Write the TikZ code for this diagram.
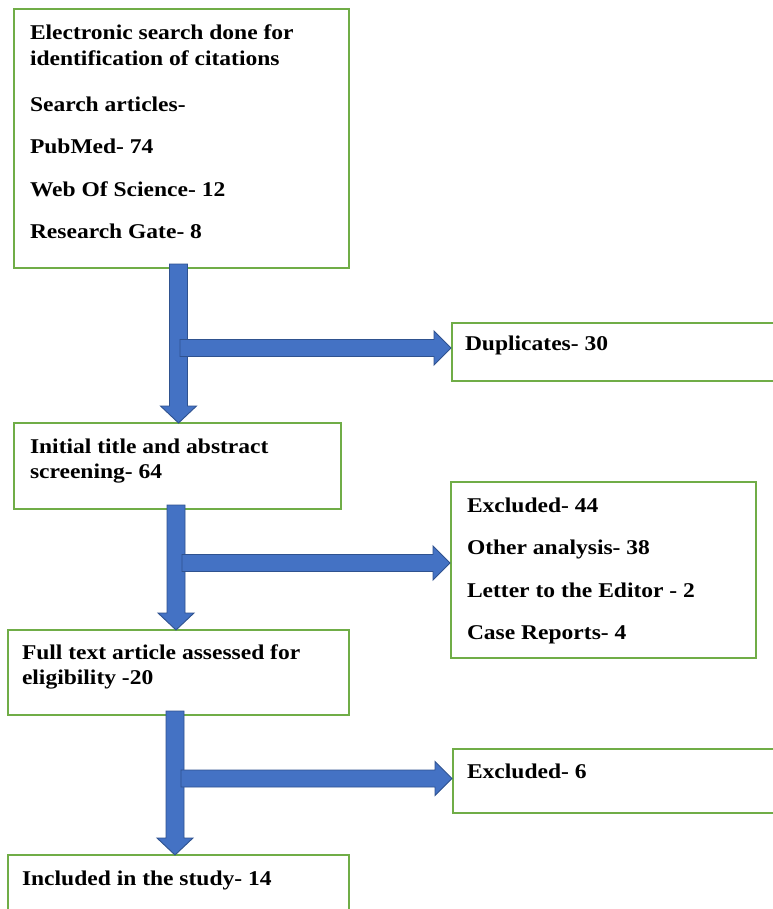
\documentclass[tikz,border=0pt]{standalone}
\usepackage{fontspec}
\setmainfont{Liberation Serif}[FakeStretch=1.12]
\definecolor{boxgreen}{HTML}{70AD47}
\definecolor{arrowblue}{HTML}{4472C4}
\definecolor{arrowedge}{HTML}{2F528F}
% vertical block arrow: #1 name, #2 centre x, #3 from node, #4 to node
\newcommand\vblockarrow[4]{%
  \path (#2,0 |- #3.south) coordinate (#1s) (#2,0 |- #4.north) coordinate (#1t);
  \draw[barrow] ([shift={(-9,-4)}]#1s) -- ([shift={(-9,-17)}]#1t) -- ([shift={(-18,-17)}]#1t)
     -- (#1t) -- ([shift={(18,-17)}]#1t) -- ([shift={(9,-17)}]#1t) -- ([shift={(9,-4)}]#1s) -- cycle;}
% side block arrow: #1 name, #2 start coordinate, #3 target node
\newcommand\hblockarrow[3]{%
  \path (#2) coordinate (#1s) (#3.west |- #2) coordinate (#1t);
  \draw[barrow] ([shift={(0,-8.5)}]#1s) -- ([shift={(-18,-8.5)}]#1t) -- ([shift={(-18,-17)}]#1t)
     -- ([shift={(-1,0)}]#1t) -- ([shift={(-18,17)}]#1t) -- ([shift={(-18,8.5)}]#1t) -- ([shift={(0,8.5)}]#1s) -- cycle;}
\begin{document}
\begin{tikzpicture}[x=1pt,y=-1pt,
  box/.style={draw=boxgreen,line width=1.5pt,fill=white,anchor=north west,inner sep=0pt,outer sep=0pt},
  txt/.style={anchor=base west,inner sep=0pt,outer sep=0pt,font=\fontsize{21}{25}\selectfont\bfseries},
  barrow/.style={fill=arrowblue,draw=arrowedge,line width=0.9pt,line join=miter}]
\useasboundingbox[fill=white] (0,0) rectangle (772,909);

% boxes
\node[box,minimum width=335pt,minimum height=259pt] (b1) at (14,9) {};
\node[box,minimum width=330pt,minimum height=58pt] (dup) at (452,323) {};
\node[box,minimum width=327pt,minimum height=86pt] (b2) at (14,423) {};
\node[box,minimum width=305pt,minimum height=176pt] (exc) at (451,482) {};
\node[box,minimum width=341pt,minimum height=85pt] (b3) at (8,630) {};
\node[box,minimum width=330pt,minimum height=64pt] (exc6) at (453,749) {};
\node[box,minimum width=341pt,minimum height=70pt] (b4) at (8,855) {};

% texts
\node[txt] (t1a) at (30,40) {Electronic search done for};
\node[txt] (t1b) at (30,66) {identification of citations};
\node[txt] (t1c) at (30,112) {Search articles-};
\node[txt] (t1d) at (30,154) {PubMed- 74};
\node[txt] (t1e) at (30,197) {Web Of Science- 12};
\node[txt] (t1f) at (30,238) {Research Gate- 8};
\node[txt] (tdup) at (465,350) {Duplicates- 30};
\node[txt] (t2a) at (30,453) {Initial title and abstract};
\node[txt] (t2b) at (30,478) {screening- 64};
\node[txt] (tea) at (467,512) {Excluded- 44};
\node[txt] (teb) at (467,554) {Other analysis- 38};
\node[txt] (tec) at (467,597) {Letter to the Editor - 2};
\node[txt] (ted) at (467,639) {Case Reports- 4};
\node[txt] (t3a) at (22,659) {Full text article assessed for};
\node[txt] (t3b) at (22,684) {eligibility -20};
\node[txt] (te6) at (467,778) {Excluded- 6};
\node[txt] (t4) at (22,885) {Included in the study- 14};

% arrows
\vblockarrow{va}{178.5}{b1}{b2}
\coordinate (ha0) at (180,348);
\hblockarrow{ha}{ha0}{dup}
\vblockarrow{vb}{176}{b2}{b3}
\coordinate (hb0) at (182,563);
\hblockarrow{hb}{hb0}{exc}
\vblockarrow{vc}{175}{b3}{b4}
\coordinate (hc0) at (181,778.5);
\hblockarrow{hc}{hc0}{exc6}
\end{tikzpicture}
\end{document}
